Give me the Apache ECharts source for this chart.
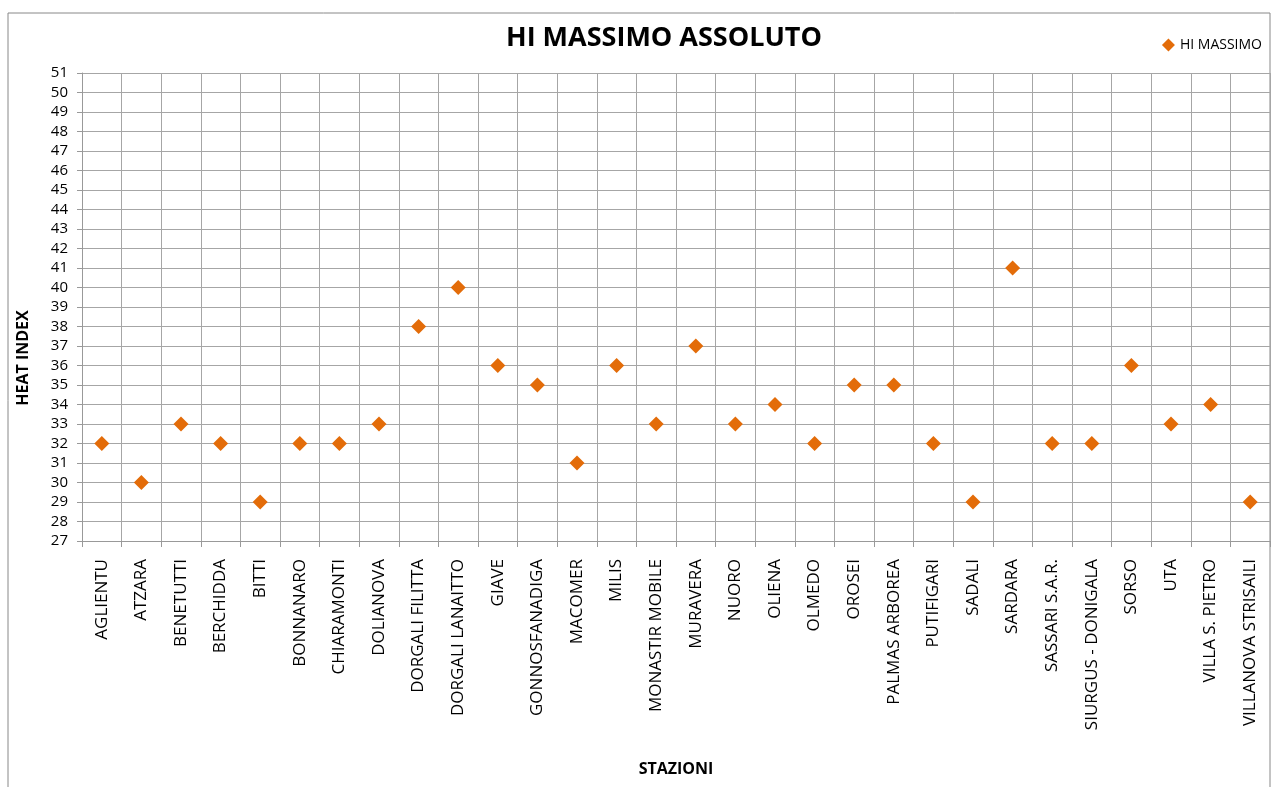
<!DOCTYPE html>
<html>
<head>
<meta charset="utf-8">
<script src="https://cdn.jsdelivr.net/npm/echarts@6/dist/echarts.min.js"></script>
<style>
html,body{margin:0;padding:0;background:#fff;}
#main{width:1277px;height:787px;}
</style>
</head>
<body>
<div id="main"></div>
<script>
var stazioni = ["AGLIENTU","ATZARA","BENETUTTI","BERCHIDDA","BITTI","BONNANARO","CHIARAMONTI","DOLIANOVA","DORGALI FILITTA","DORGALI LANAITTO","GIAVE","GONNOSFANADIGA","MACOMER","MILIS","MONASTIR MOBILE","MURAVERA","NUORO","OLIENA","OLMEDO","OROSEI","PALMAS ARBOREA","PUTIFIGARI","SADALI","SARDARA","SASSARI S.A.R.","SIURGUS - DONIGALA","SORSO","UTA","VILLA S. PIETRO","VILLANOVA STRISAILI"];
var hiMassimo = [32,30,33,32,29,32,32,33,38,40,36,35,31,36,33,37,33,34,32,35,35,32,29,41,32,32,36,33,34,29];

var mycharts = echarts.init(document.getElementById('main'));
var font = "'Open Sans', 'Noto Sans', sans-serif";
var option = {
	backgroundColor: '#fff',
	animation: false,
	textStyle: { fontFamily: font },
	graphic: [{
		type: 'rect',
		shape: { x: 8, y: 13, width: 1262, height: 790 },
		style: { fill: 'none', stroke: '#888', lineWidth: 1 },
		silent: true
	}, {
		// titolo asse Y
		type: 'text',
		x: 15, y: 358,
		rotation: Math.PI / 2,
		style: {
			text: 'HEAT INDEX', fill: '#000',
			font: "bold 16px 'Open Sans', 'Noto Sans', sans-serif",
			align: 'center', verticalAlign: 'top'
		},
		silent: true
	}],
	title: {
		text: 'HI MASSIMO ASSOLUTO',
		left: 659, top: 20, textAlign: 'center',
		textStyle: { fontFamily: font, fontSize: 27, fontWeight: 'bold', color: '#000' }
	},
	legend: {
		right: 10, top: 33,
		itemWidth: 13, itemHeight: 13, itemGap: 4,
		textStyle: { fontFamily: font, fontSize: 14, color: '#000' },
		data: [{ name: 'HI MASSIMO', icon: 'diamond' }]
	},
	grid: { left: 82, right: 7, top: 73, bottom: 246, containLabel: false, outerBoundsMode: 'none' },
	xAxis: {
		type: 'category',
		data: stazioni,
		boundaryGap: true,
		name: 'STAZIONI',
		nameLocation: 'middle',
		nameGap: 220,
		nameTextStyle: { fontFamily: font, fontSize: 16, fontWeight: 'bold', color: '#000' },
		axisLine: { lineStyle: { color: '#999', width: 1 } },
		axisTick: { show: true, length: 6, lineStyle: { color: '#999' } },
		axisLabel: { rotate: 90, interval: 0, margin: 18, fontSize: 17, color: '#000', fontFamily: font },
		splitLine: { show: true, interval: 0, lineStyle: { color: '#a6a6a6', width: 1 } }
	},
	yAxis: {
		type: 'value',
		min: 27, max: 51, interval: 1,
		axisLine: { show: true, lineStyle: { color: '#999', width: 1 } },
		axisTick: { show: true, length: 5, lineStyle: { color: '#999' } },
		axisLabel: { fontSize: 15, color: '#000', margin: 14, fontFamily: font },
		splitLine: { show: true, lineStyle: { color: '#a6a6a6', width: 1 } }
	},
	series: [{
		name: 'HI MASSIMO',
		type: 'scatter',
		symbol: 'diamond',
		symbolSize: 15,
		itemStyle: { color: '#E36C09', opacity: 1 },
		data: hiMassimo
	}]
};
mycharts.setOption(option);
</script>
</body>
</html>
